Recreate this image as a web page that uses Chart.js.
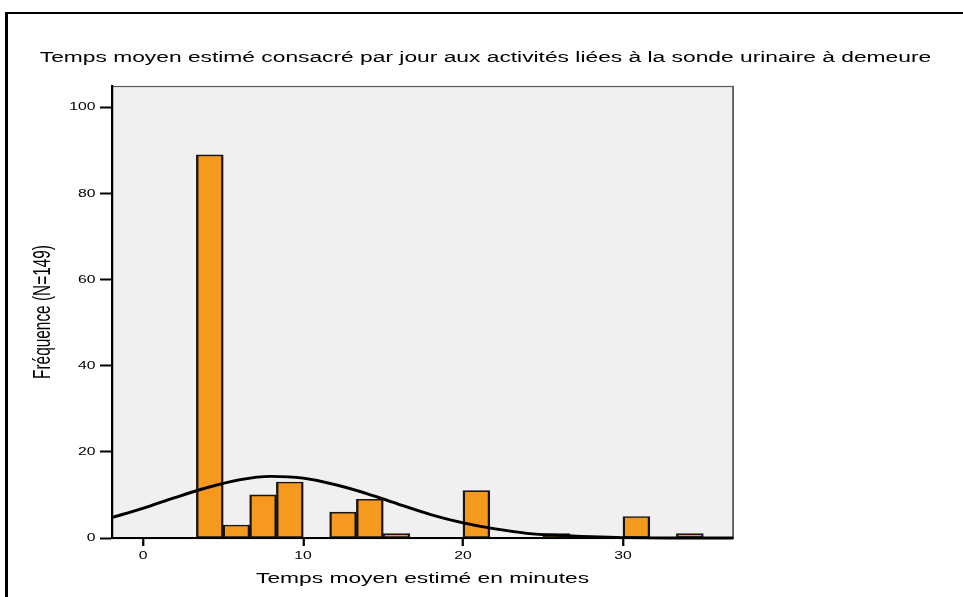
<!DOCTYPE html>
<html lang="fr">
<head>
<meta charset="utf-8">
<title>Temps moyen estimé</title>
<script src="https://cdn.jsdelivr.net/npm/chart.js@4.4.1/dist/chart.umd.min.js"></script>
<style>
  html, body { margin: 0; background: #fff; }
  #histo { position: absolute; left: 0; top: 0; display: block; }
  .frame {
    position: absolute; left: 5px; top: 12px; width: 1000px; height: 1000px;
    border-top: 2px solid #000; border-left: 3px solid #000; pointer-events: none;
  }
</style>
</head>
<body>
<canvas id="histo" width="642" height="597" style="width:963px;height:597px"></canvas>
<div class="frame"></div>
<script>
// histogram bins (centre of each 5/3-minute class) and counts, N = 149
const binCentres = [4.17, 5.83, 7.5, 9.17, 10.83, 12.5, 14.17, 15.83, 17.5, 19.17,
                    20.83, 22.5, 24.17, 25.83, 27.5, 29.17, 30.83, 32.5, 34.17];
const counts = [89, 3, 10, 13, 0, 6, 9, 1, 0, 0, 11, 0, 0, 1, 0, 0, 5, 0, 1];

// fitted normal curve
const curveX = [-2, 0, 2, 4, 6, 8, 10, 12, 14, 16, 18, 20, 22, 24, 26, 28, 30, 33, 37];
const curveY = [4.7, 6.9, 9.4, 11.7, 13.5, 14.3, 13.9, 12.4, 10.3, 7.8, 5.4, 3.5, 2.1, 1.1, 0.6, 0.3, 0.1, 0, 0];

const xTicks = [0, 10, 20, 30];
const yTicks = [0, 20, 40, 60, 80, 100];

// the chart is laid out 642px wide and drawn stretched to 963px
const STRETCH = 1.5;
const canvas = document.getElementById('histo');

Chart.defaults.font.family = '"Liberation Sans", Arial, Helvetica, sans-serif';
Chart.defaults.color = '#000';

const panel = {
  id: 'panel',
  beforeDraw(chart) {
    const {ctx, chartArea: a} = chart;
    ctx.setTransform(STRETCH, 0, 0, 1, 0, 0);
    ctx.save();
    ctx.fillStyle = '#f0f0f0';
    ctx.fillRect(a.left, a.top, a.width, a.height);
    ctx.strokeStyle = '#5a5a5a';
    ctx.lineWidth = 1.2;
    ctx.strokeRect(a.left, a.top + 0.5, a.width, a.height);
    ctx.restore();
  }
};

const chart = new Chart(canvas, {
  type: 'bar',
  plugins: [panel],
  data: {
    datasets: [
      {
        type: 'line',
        data: curveX.map((x, i) => ({x: x, y: curveY[i]})),
        borderColor: '#000',
        borderWidth: 2.8,
        pointRadius: 0,
        fill: false,
        cubicInterpolationMode: 'monotone',
        clip: {left: 0, top: 0, right: 0, bottom: 3},
        order: 0
      },
      {
        data: binCentres.map((c, i) => ({x: c, y: counts[i]})),
        backgroundColor: '#f8991f',
        borderColor: '#151515',
        borderWidth: 1.6,
        borderSkipped: false,
        barPercentage: 1,
        categoryPercentage: 1,
        order: 1
      }
    ]
  },
  options: {
    responsive: false,
    animation: false,
    devicePixelRatio: 1,
    events: [],
    layout: { padding: { left: 5.3, right: 0, top: 0, bottom: 0 } },
    plugins: {
      legend: { display: false },
      tooltip: { enabled: false },
      title: {
        display: true,
        text: 'Temps moyen estimé consacré par jour aux activités liées à la sonde urinaire à demeure',
        font: { size: 15.2, weight: 'normal' },
        color: '#000',
        padding: { top: 48.4, bottom: 19.36 }
      }
    },
    scales: {
      x: {
        type: 'linear',
        min: -1.94,
        max: 36.87,
        offset: false,
        afterBuildTicks: s => { s.ticks = xTicks.map(v => ({value: v})); },
        afterFit: s => { s.height = 59; },
        grid: { offset: false, drawOnChartArea: false, tickLength: 8, tickColor: '#000', tickWidth: 1.5 },
        border: { color: '#000', width: 2 },
        ticks: { font: { size: 10.5 }, padding: 3.5, color: '#000', maxRotation: 0 },
        title: {
          display: true,
          text: 'Temps moyen estimé en minutes',
          font: { size: 15.2 },
          color: '#000',
          padding: { top: 0, bottom: 9.4 }
        }
      },
      y: {
        min: 0,
        max: 105,
        afterBuildTicks: s => { s.ticks = yTicks.map(v => ({value: v})); },
        afterFit: s => { s.width = 69.4; },
        grid: { drawOnChartArea: false, tickLength: 8, tickColor: '#000', tickWidth: 2 },
        border: { color: '#000', width: 1.5 },
        ticks: { font: { size: 10.5 }, padding: 3, color: '#000' },
        title: {
          display: true,
          text: 'Fréquence (N=149)',
          font: { size: 15.4 },
          color: '#000',
          padding: { top: 14.6, bottom: 0 }
        }
      },
      // empty space to the right of the plot
      side: {
        position: 'right',
        display: true,
        grid: { display: false },
        border: { display: false },
        ticks: { display: false },
        afterFit: s => { s.width = 153.3; }
      }
    }
  }
});

// widen the backing store and redraw with the horizontal stretch
canvas.width = Math.round(642 * STRETCH);
chart.draw();
</script>
</body>
</html>
